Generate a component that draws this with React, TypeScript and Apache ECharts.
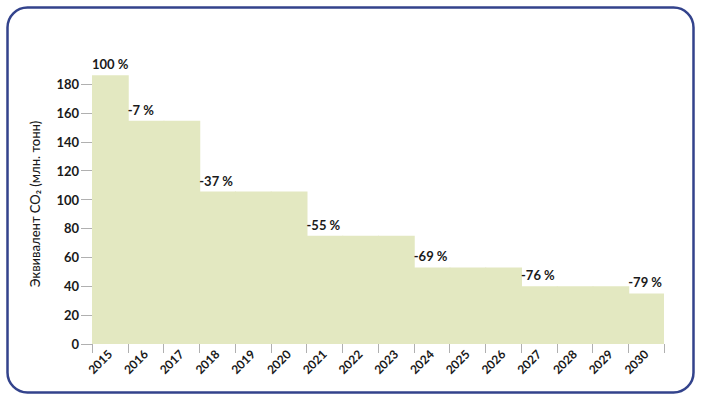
import React, { useEffect, useRef } from "react";
import * as echarts from "echarts";

const years = ["2015", "2016", "2017", "2018", "2019", "2020", "2021", "2022", "2023", "2024", "2025", "2026", "2027", "2028", "2029", "2030"];
const emissions = [186, 154.5, 154.5, 105.5, 105.5, 105.5, 75, 75, 75, 53, 53, 53, 40, 40, 40, 35];
const stepLabels = ["100 %", "-7 %", "", "-37 %", "", "", "-55 %", "", "", "-69 %", "", "", "-76 %", "", "", "-79 %"];
const yAxisTitle = "Эквивалент CO₂ (млн. тонн)";

const FONT = "Lato, 'Open Sans', sans-serif";
const FILL = "#e3e8c1";

export default function App() {
  const ref = useRef<HTMLDivElement>(null);
  useEffect(() => {
    if (!ref.current) return;
    const chart = echarts.init(ref.current, undefined, { renderer: "svg" });
    const lastIndex = years.length - 1;
    chart.setOption({
      animation: false,
      backgroundColor: "#ffffff",
      grid: { left: 92, right: 37, top: 84, bottom: 56, containLabel: false },
      xAxis: {
        type: "category",
        data: years,
        boundaryGap: true,
        axisLine: { show: false },
        axisTick: { show: true, interval: 0, length: 9, lineStyle: { color: "#b0b0b0", width: 1 } },
        axisLabel: {
          interval: 0,
          rotate: 45,
          margin: 8,
          fontFamily: FONT,
          fontWeight: "bold",
          fontSize: 12,
          color: "#1a1a1a",
        },
        splitLine: { show: false },
      },
      yAxis: {
        type: "value",
        min: 0,
        max: 180,
        interval: 20,
        axisLine: { show: false },
        axisTick: { show: true, length: 11, lineStyle: { color: "#b0b0b0", width: 1 } },
        axisLabel: {
          margin: 13,
          fontFamily: FONT,
          fontWeight: "bold",
          fontSize: 13,
          color: "#1a1a1a",
        },
        splitLine: { show: false },
      },
      series: [
        {
          type: "custom",
          clip: false,
          data: emissions.map((v, i) => [i, v]),
          renderItem: (params: any, api: any) => {
            const idx = api.value(0);
            const v = api.value(1);
            const base = api.coord([idx, 0]);
            const top = api.coord([idx, v]);
            const w = api.size([1, 0])[0];
            const x0 = base[0] - w / 2;
            const children: any[] = [
              {
                type: "rect",
                shape: { x: x0, y: top[1], width: w + (idx === lastIndex ? 0 : 1), height: base[1] - top[1] },
                style: { fill: FILL },
              },
            ];
            const lbl = stepLabels[idx];
            if (lbl) {
              children.push({
                type: "text",
                z2: 100,
                x: x0,
                y: top[1] - 11,
                style: {
                  text: lbl,
                  textAlign: "left",
                  textVerticalAlign: "middle",
                  fontFamily: FONT,
                  fontWeight: "bold",
                  fontSize: 13,
                  fill: "#1a1a1a",
                },
              });
            }
            return { type: "group", children };
          },
        },
      ],
      graphic: [
        {
          type: "rect",
          shape: { x: 7.5, y: 7.5, width: 686, height: 385, r: 20 },
          style: { fill: "none", stroke: "#33438c", lineWidth: 2.5 },
          silent: true,
        },
        {
          type: "text",
          x: 35,
          y: 204,
          rotation: Math.PI / 2,
          style: {
            text: yAxisTitle,
            textAlign: "center",
            textVerticalAlign: "middle",
            fontFamily: FONT,
            fontSize: 13,
            fontWeight: 500,
            fill: "#1a1a1a",
          },
        },
      ],
    });
    return () => chart.dispose();
  }, []);
  return <div ref={ref} style={{ position: "fixed", left: 0, top: 0, width: 701, height: 400 }} />;
}
